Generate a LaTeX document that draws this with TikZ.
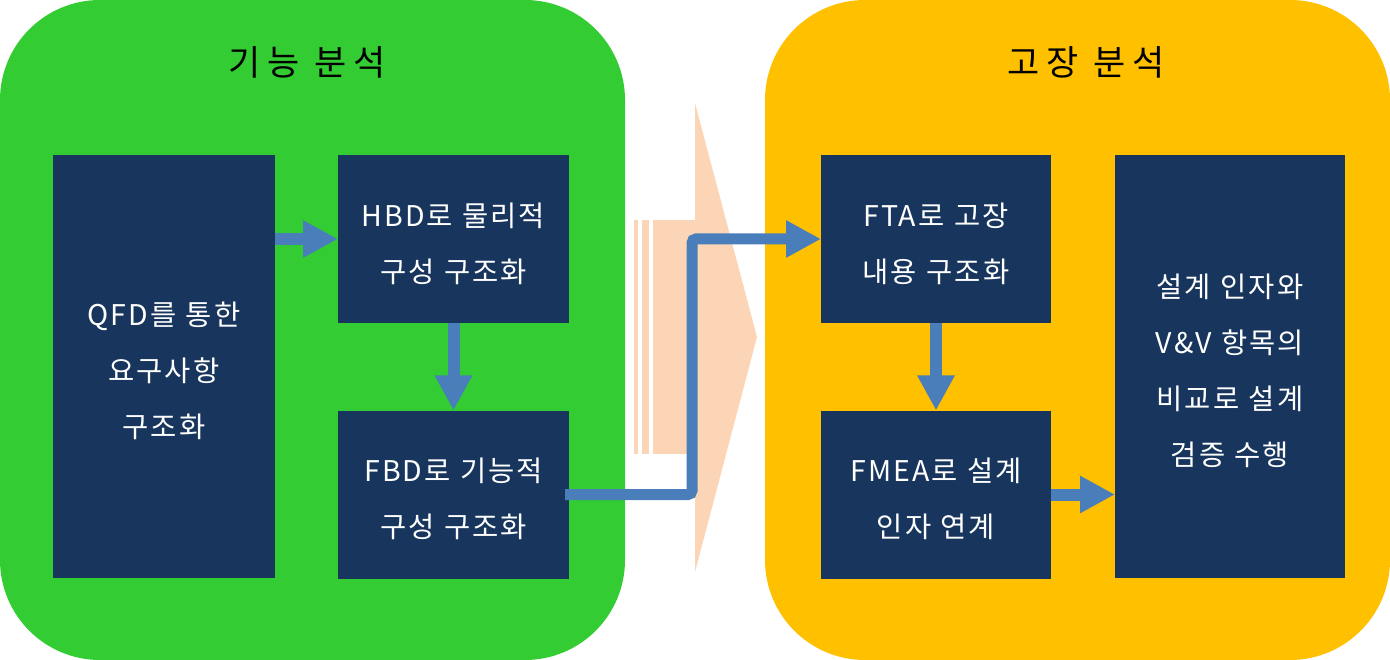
\documentclass[tikz,border=0pt]{standalone}
\usepackage{fontspec}
\setmainfont{Noto Sans CJK KR}
\newfontfamily\boxfont[LetterSpace=7]{Noto Sans CJK KR}
\newfontfamily\titlefont[LetterSpace=20]{Noto Sans CJK KR}
\usetikzlibrary{arrows.meta}
\definecolor{pgreen}{HTML}{33CC33}
\definecolor{porange}{HTML}{FFC000}
\definecolor{navy}{HTML}{18365D}
\definecolor{abl}{HTML}{4A7EBB}
\definecolor{peach}{HTML}{FBD5B5}
\tikzset{
  panel/.style={inner sep=0pt, outer sep=0pt, rounded corners=100pt, minimum width=625pt, minimum height=660pt},
  ptitle/.style={inner sep=0pt, text=black, font=\titlefont\fontsize{35}{40}\selectfont},
  stepbox/.style={fill=navy, draw=none, inner sep=0pt, outer sep=0pt, minimum width=231pt, text=white, align=center, text width=228pt, font=\boxfont\fontsize{28.5}{56}\selectfont, execute at begin node={\rule{0pt}{33pt}}},
  conn/.style={draw=abl, line width=12pt, -{Triangle[length=35pt,width=35pt]}},
  elbow/.style={draw=abl, line width=11pt, rounded corners=4pt, -{Triangle[length=35pt,width=35pt]}},
}
\begin{document}
\begin{tikzpicture}[x=1pt,y=-1pt]
\useasboundingbox (0,0) rectangle (1390,660);
% panels
\node[panel, fill=pgreen] (fpanel) at (312.5,330) {};
\node[panel, fill=porange] (opanel) at (1077.5,330) {};
\node[ptitle] (ftitle) at (307,62) {기능 분석};
\node[ptitle] (otitle) at (1086,62) {고장 분석};
% big peach arrow
\fill[peach] (695,103) -- (757,337) -- (695,572) -- cycle;
\fill[peach] (653,220) rectangle (696,454);
\fill[peach] (642,220) rectangle (649,454);
\fill[peach] (634,220) rectangle (638,454);
% boxes
\node[stepbox, minimum width=222pt, text width=220pt, minimum height=423pt] (qfd) at (164,366.5) {QFD를 통한\\요구사항\\구조화};
\node[stepbox, minimum height=168pt] (hbd) at (453.5,239) {HBD로 물리적\\구성 구조화};
\node[stepbox, minimum height=168pt] (fbd) at (453.5,494.5) {FBD로 기능적\\구성 구조화};
\node[stepbox, minimum width=230pt, minimum height=168pt] (fta) at (936,239) {FTA로 고장\\내용 구조화};
\node[stepbox, minimum width=230pt, minimum height=168pt] (fmea) at (936,494.5) {FMEA로 설계\\인자 연계};
\node[stepbox, minimum width=230pt, minimum height=423pt] (vv) at (1230,366.5) {설계 인자와\\V\&V 항목의\\비교로 설계\\검증 수행};
% connectors
\coordinate (bend) at (692,494.5);
\draw[conn] (qfd.east |- hbd.west) -- (hbd.west);
\draw[conn] (hbd.south) -- (fbd.north);
\draw[elbow] ([xshift=-4pt]fbd.east) -- (bend) |- (fta.west);
\draw[conn] (fta.south) -- (fmea.north);
\draw[conn] (fmea.east) -- (fmea.east -| vv.west);
\end{tikzpicture}
\end{document}
